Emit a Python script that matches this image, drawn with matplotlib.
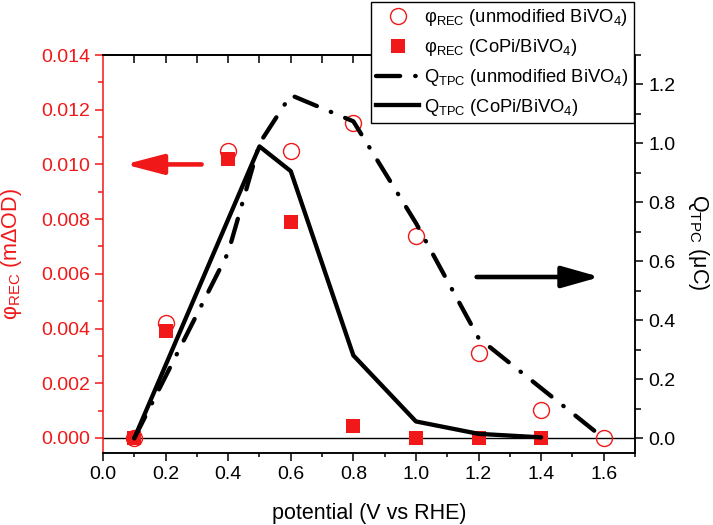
import numpy as np
import matplotlib
matplotlib.use('Agg')
import matplotlib.pyplot as plt
from matplotlib.ticker import MultipleLocator, FormatStrFormatter
from matplotlib.lines import Line2D

plt.rcParams['font.family'] = ['Liberation Sans', 'DejaVu Sans']
plt.rcParams['mathtext.fontset'] = 'custom'
plt.rcParams['mathtext.rm'] = 'Liberation Sans'
plt.rcParams['mathtext.it'] = 'Liberation Sans:italic'

# datos
pot = [0.1, 0.2, 0.4, 0.6, 0.8, 1.0, 1.2, 1.4, 1.6]
rec_unmod = [0.0, 0.0042, 0.0105, 0.0105, 0.0115, 0.0074, 0.0031, 0.00104, 0.0]
pot_copi = [0.1, 0.2, 0.4, 0.6, 0.8, 1.0, 1.2, 1.4]
rec_copi = [0.0, 0.0039, 0.0102, 0.0079, 0.00043, 0.0, 0.0, 0.0]

pot_q_unmod = [0.1, 0.4, 0.5, 0.6, 0.8, 1.0, 1.2, 1.4, 1.6]
q_unmod = [0.0, 0.63, 1.0, 1.164, 1.075, 0.73, 0.34, 0.17, 0.0]
pot_q_copi = [0.1, 0.5, 0.6, 0.8, 1.0, 1.2, 1.4]
q_copi = [0.0, 0.99, 0.906, 0.281, 0.057, 0.015, 0.003]

red = '#F01818'
fs = 14

fig = plt.figure(figsize=(7.13, 5.25), dpi=100)
ax = fig.add_axes([103/713, 1-453/525, 532/713, 398/525])
ax2 = ax.twinx()

# eje izquierdo: phi_REC
ax.plot(pot, rec_unmod, 'o', ms=11.5, mfc='none', mec=red, mew=1.0, zorder=3)
ax.plot(pot_copi, rec_copi, 's', ms=10, mfc=red, mec=red, mew=0, zorder=4)
ax.axhline(0, color='k', lw=1.0, zorder=2)

ax.set_xlim(0, 1.7)
ax.set_ylim(-0.00055, 0.014)
ax.set_xticks(np.arange(0, 1.61, 0.2))
ax.xaxis.set_minor_locator(MultipleLocator(0.1))
ax.xaxis.set_major_formatter(FormatStrFormatter('%.1f'))
ax.set_yticks(np.arange(0, 0.0141, 0.002))
ax.yaxis.set_minor_locator(MultipleLocator(0.001))
ax.yaxis.set_major_formatter(FormatStrFormatter('%.3f'))
ax.tick_params(axis='x', which='both', direction='out', labelsize=fs, width=1.1)
ax.tick_params(axis='x', which='major', length=6)
ax.tick_params(axis='x', which='minor', length=3.2)
ax.tick_params(axis='y', which='both', direction='out', colors=red, labelsize=fs, width=1.1)
ax.tick_params(axis='y', which='major', length=6)
ax.tick_params(axis='y', which='minor', length=3.5)
for s in ax.spines.values():
    s.set_linewidth(1.1)
ax.spines['left'].set_color(red)

ax.set_xlabel('potential (V vs RHE)', fontsize=15.5, labelpad=14)
ax.set_ylabel('φ$_{\\mathregular{REC}}$ (mΔOD)', fontsize=15.5, color=red)
ax.yaxis.set_label_coords(-0.148, 0.5)

# ticks de arriba hacia adentro
top = ax.secondary_xaxis('top')
top.set_xticks(np.arange(0.1, 1.61, 0.1))
top.tick_params(direction='in', length=6, width=1.1, labeltop=False)
top.spines['top'].set_linewidth(1.1)

# eje derecho: Q_TPC
ax2.plot(pot_q_unmod, q_unmod, color='k', lw=3.1,
         linestyle=(0, (5.6, 3.5, 0.12, 3.5)), dash_capstyle='round', zorder=3)
ax2.plot(pot_q_copi, q_copi, color='k', lw=3.1, solid_capstyle='round', zorder=3)
ax2.set_ylim(-0.05, 1.3)
ax2.set_yticks(np.arange(0, 1.21, 0.2))
ax2.yaxis.set_minor_locator(MultipleLocator(0.1))
ax2.yaxis.set_major_formatter(FormatStrFormatter('%.1f'))
ax2.tick_params(axis='y', which='both', direction='out', labelsize=fs, width=1.1)
ax2.tick_params(axis='y', which='major', length=6)
ax2.tick_params(axis='y', which='minor', length=4)
ax2.spines['left'].set_visible(False)
for s in ['right', 'top', 'bottom']:
    ax2.spines[s].set_linewidth(1.1)
ax2.set_ylabel('Q$_{\\mathregular{TPC}}$ (μC)', fontsize=15.5, rotation=-90)
ax2.yaxis.set_label_coords(1.143, 0.53)

# flechas
ax.annotate('', xy=(0.07, 0.0100), xytext=(0.315, 0.0100),
            arrowprops=dict(arrowstyle='-|>,head_length=2.3,head_width=0.6',
                            color=red, lw=3.3, mutation_scale=10,
                            shrinkA=0, shrinkB=0))
ax2.annotate('', xy=(1.588, 0.547), xytext=(1.194, 0.547),
             arrowprops=dict(arrowstyle='-|>,head_length=2.3,head_width=0.65',
                             color='k', lw=3.3, mutation_scale=10,
                             shrinkA=0, shrinkB=0))

# leyenda
handles = [
    Line2D([], [], ls='none', marker='o', ms=11.5, mfc='none', mec=red, mew=1.0),
    Line2D([], [], ls='none', marker='s', ms=10, mfc=red, mec=red, mew=0),
    Line2D([], [], color='k', lw=3.1, linestyle=(0, (5.6, 3.5, 0.12, 3.5)),
           dash_capstyle='round'),
    Line2D([], [], color='k', lw=3.1),
]
labels = [
    'φ$_{\\mathregular{REC}}$ (unmodified BiVO$_{\\mathregular{4}}$)',
    'φ$_{\\mathregular{REC}}$ (CoPi/BiVO$_{\\mathregular{4}}$)',
    'Q$_{\\mathregular{TPC}}$ (unmodified BiVO$_{\\mathregular{4}}$)',
    'Q$_{\\mathregular{TPC}}$ (CoPi/BiVO$_{\\mathregular{4}}$)',
]
leg = fig.legend(handles, labels, loc='upper left',
                 bbox_to_anchor=(371/713, 1-2/525), fontsize=13.2,
                 frameon=True, fancybox=False, framealpha=1, edgecolor='k',
                 borderpad=0.3, borderaxespad=0, handlelength=2.3,
                 handletextpad=0.3, labelspacing=0.48, numpoints=1)
leg.get_frame().set_linewidth(1.0)

fig.savefig('out.png', dpi=100)
